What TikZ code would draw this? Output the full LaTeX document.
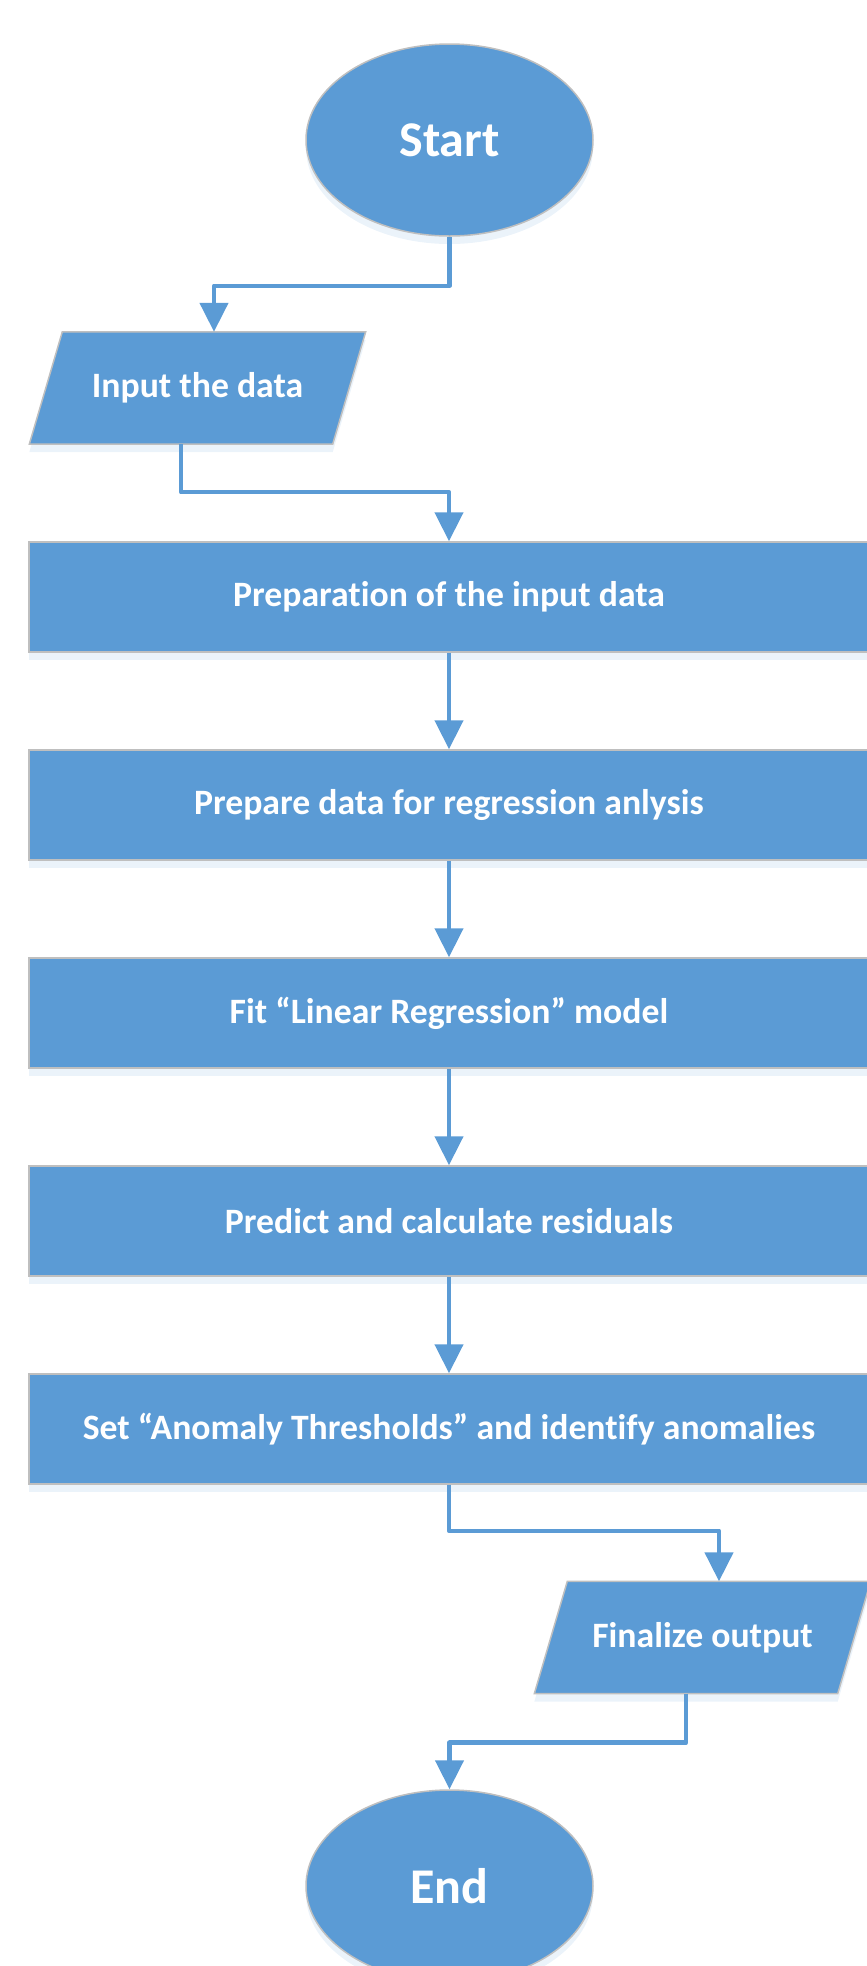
\documentclass[tikz,border=0pt]{standalone}
\usepackage{fontspec}
\setmainfont{Carlito}[Ligatures=NoCommon]
\usepackage{tikz}
\usetikzlibrary{positioning, arrows.meta, calc, shapes.geometric, shadows, backgrounds}

\definecolor{flowblue}{HTML}{5B9BD5}
\definecolor{edgegray}{HTML}{BFBFBF}

\tikzset{
  shade below/.style={drop shadow={shadow xshift=0pt, shadow yshift=-8pt,
    opacity=0.2, fill=flowblue!60}},
  base/.style={fill=flowblue, draw=edgegray, line width=1.5pt, text=white,
    font=\fontsize{35.7}{42}\selectfont\bfseries, shade below},
  terminal/.style={base, ellipse, minimum width=287pt, minimum height=192pt,
    inner sep=0pt, font=\fontsize{50}{58}\selectfont\bfseries},
  process/.style={base, rectangle, minimum width=840pt, minimum height=110pt, inner sep=0pt},
  io/.style={rectangle, minimum width=303pt, minimum height=112pt, inner sep=0pt,
    text=white, font=\fontsize{35.7}{42}\selectfont\bfseries},
  flow/.style={color=flowblue, line width=4.5pt, line join=round,
    -{Triangle[length=29pt, width=28pt]}}
}

% slanted box behind an io node
\newcommand{\slantbox}[1]{%
  \draw[fill=flowblue, draw=edgegray, line width=1.5pt, shade below]
    ($(#1.south west)+(-16.5,0)$) -- ($(#1.south east)+(-16.5,0)$)
    -- ($(#1.north east)+(16.5,0)$) -- ($(#1.north west)+(16.5,0)$) -- cycle;}

\begin{document}
\begin{tikzpicture}[x=1pt, y=1pt, node distance=208pt, on grid]
  \useasboundingbox (0,0) rectangle (867,-1966);

  \node[terminal] (start) at (449.5,-140)  {Start};
  \node[io]       (input) at (197.5,-388)  {Input the data};

  \node[process] (prep)  at (449,-597)    {Preparation of the input data};
  \node[process] [below=of prep]  (regr)  {Prepare data for regression anlysis};
  \node[process] [below=of regr]  (fit)   {Fit “Linear Regression” model};
  \node[process] [below=of fit]   (pred)  {Predict and calculate residuals};
  \node[process] [below=of pred]  (thr)   {Set “Anomaly Thresholds” and identify anomalies};

  \node[io]       (final) at (702.5,-1637.5) {Finalize output};
  \node[terminal] (end)   at (449.5,-1886)   {End};

  \begin{scope}[on background layer]
    \slantbox{input}
    \slantbox{final}
  \end{scope}

  % mid points of the slanted edges
  \coordinate (inTop)  at ($(input.north)+(16.5,0)$);
  \coordinate (inBot)  at ($(input.south)+(-16.5,0)$);
  \coordinate (finTop) at ($(final.north)+(16.5,0)$);
  \coordinate (finBot) at ($(final.south)+(-16.5,0)$);

  \draw[flow] (start.south) -- ++(0,-49) -| (inTop);
  \draw[flow] (inBot) -- ++(0,-48) -| (prep.north);

  \path[flow]
    (prep) edge (regr)
    (regr) edge (fit)
    (fit)  edge (pred)
    (pred) edge (thr);

  \draw[flow] (thr.south) -- ++(0,-46) -| (finTop);
  \draw[flow] (finBot) -- ++(0,-49) -| (end.north);

\end{tikzpicture}
\end{document}
